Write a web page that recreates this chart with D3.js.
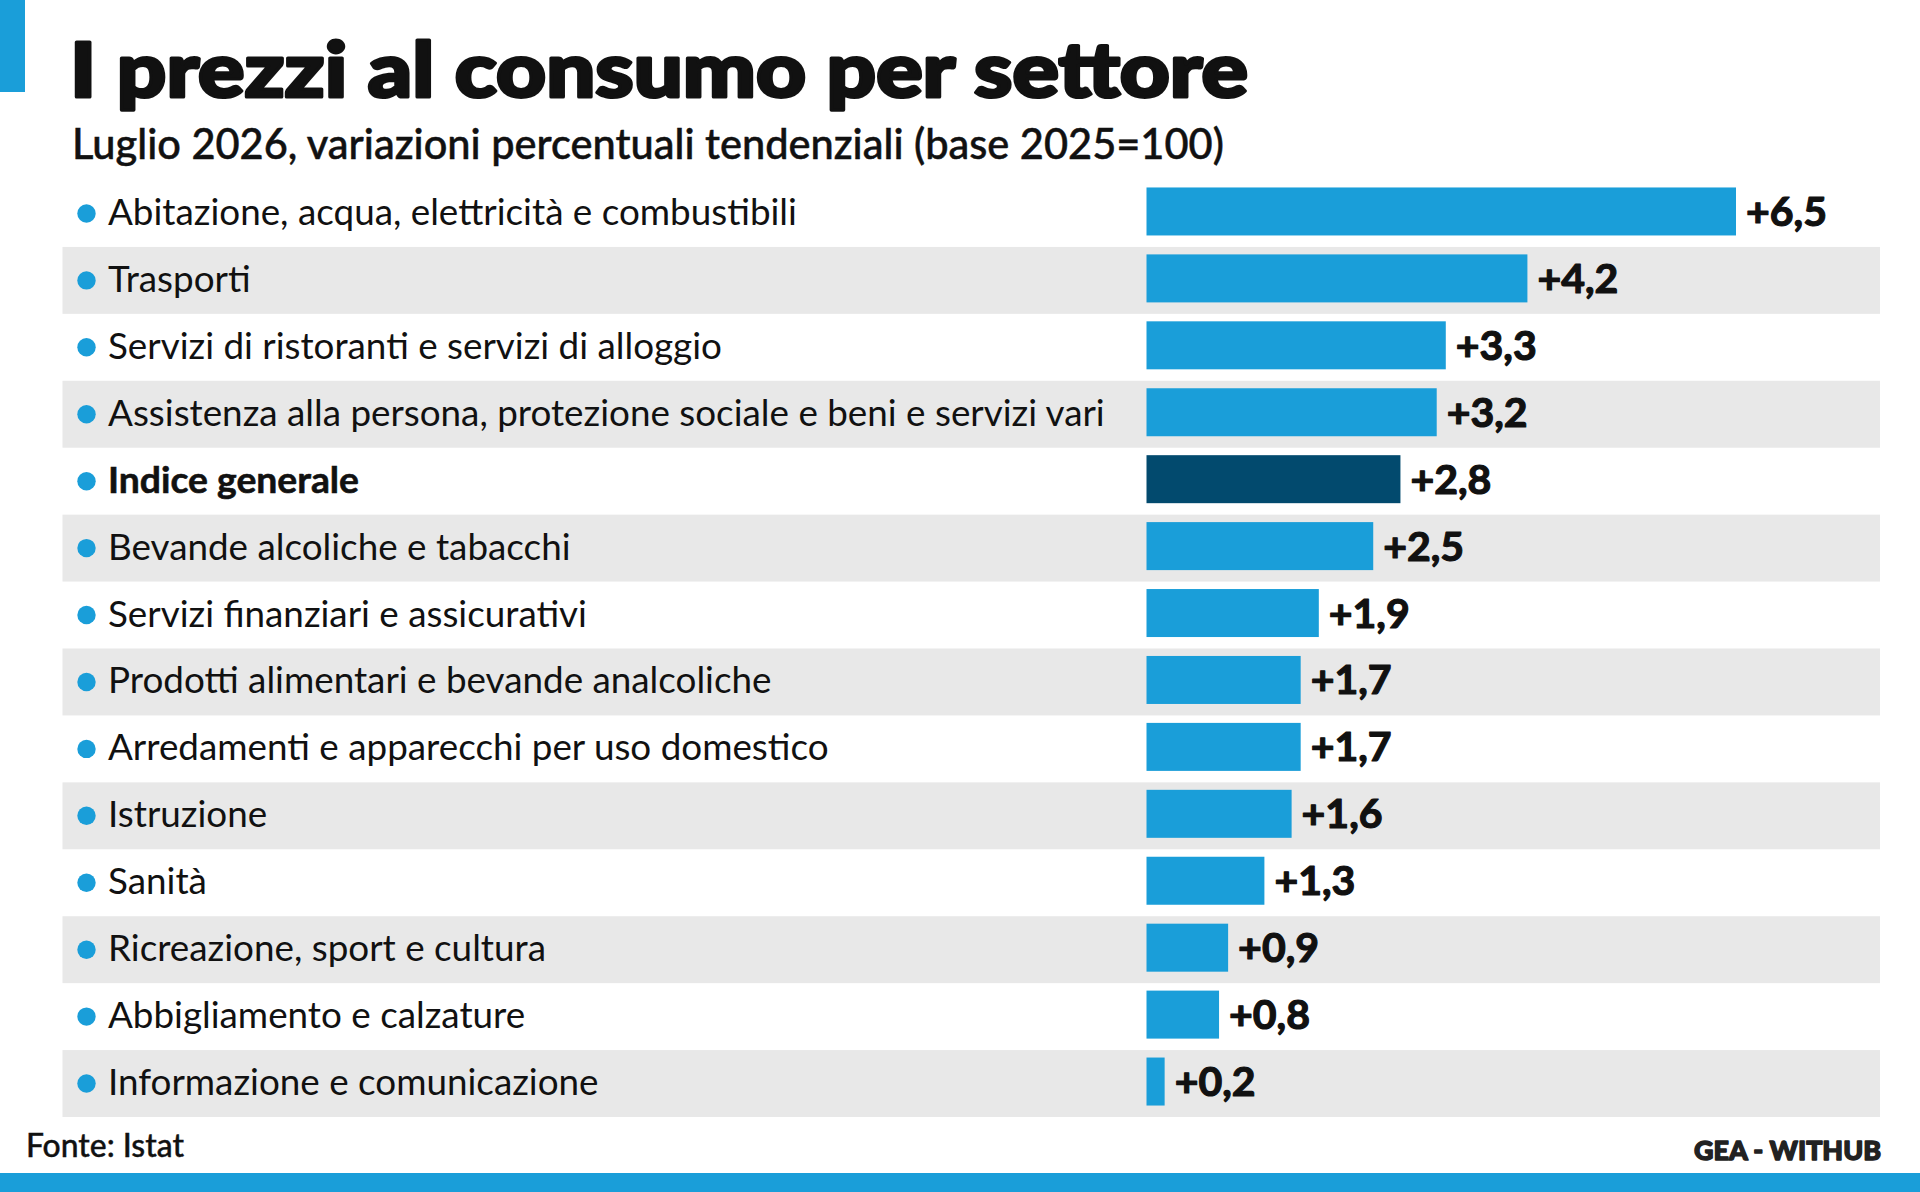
<!DOCTYPE html>
<html>
<head>
<meta charset="utf-8">
<script src="https://cdn.jsdelivr.net/npm/d3@7"></script>
<style>
  html, body { margin: 0; padding: 0; background: #fff; }
  svg { display: block; font-family: Lato, "Noto Sans", sans-serif; }
</style>
</head>
<body>
<script>
// ---- data ----
const categories = [
  "Abitazione, acqua, elettricità e combustibili",
  "Trasporti",
  "Servizi di ristoranti e servizi di alloggio",
  "Assistenza alla persona, protezione sociale e beni e servizi vari",
  "Indice generale",
  "Bevande alcoliche e tabacchi",
  "Servizi finanziari e assicurativi",
  "Prodotti alimentari e bevande analcoliche",
  "Arredamenti e apparecchi per uso domestico",
  "Istruzione",
  "Sanità",
  "Ricreazione, sport e cultura",
  "Abbigliamento e calzature",
  "Informazione e comunicazione"
];
const values = [6.5, 4.2, 3.3, 3.2, 2.8, 2.5, 1.9, 1.7, 1.7, 1.6, 1.3, 0.9, 0.8, 0.2];
const highlight = "Indice generale";

const title = "I prezzi al consumo per settore";
const subtitle = "Luglio 2026, variazioni percentuali tendenziali (base 2025=100)";
const source = "Fonte: Istat";
const credit = "GEA - WITHUB";

// ---- layout ----
const width = 1920, height = 1192;
const blue = "#1a9ed9", dark = "#024a6e", stripe = "#e8e8e8", ink = "#111";

const svg = d3.select("body").append("svg")
  .attr("width", width)
  .attr("height", height);

// scale a text's font-size so it spans the target width
function fitWidth(sel, target) {
  const node = sel.node();
  const fs = parseFloat(sel.attr("font-size"));
  const w = node.getComputedTextLength();
  sel.attr("font-size", (fs * target / w).toFixed(2));
}

const y = d3.scaleBand()
  .domain(categories)
  .range([180, 1117]);

const x = d3.scaleLinear()
  .domain([0, d3.max(values)])
  .range([1146.5, 1736]);

const barH = 48;
const rows = categories.map((c, i) => ({ name: c, value: values[i], i }));

// accent + bottom band
svg.append("rect").attr("x", 0).attr("y", 0).attr("width", 25).attr("height", 92).attr("fill", blue);
svg.append("rect").attr("x", 0).attr("y", 1173).attr("width", width).attr("height", height - 1173).attr("fill", blue);

// title (stroked to get a black weight, stretched to the original width)
svg.append("text")
  .attr("x", 70).attr("y", 97)
  .attr("font-size", 76).attr("font-weight", 900)
  .attr("fill", ink)
  .attr("stroke", ink).attr("stroke-width", 3.2).attr("stroke-linejoin", "round")
  .attr("textLength", 1178)
  .attr("lengthAdjust", "spacingAndGlyphs")
  .text(title);

const st = svg.append("text")
  .attr("x", 72).attr("y", 159)
  .attr("font-size", 36).attr("font-weight", 500)
  .attr("fill", ink)
  .attr("stroke", ink).attr("stroke-width", 0.5)
  .text(subtitle);
fitWidth(st, 1152);

// row stripes
svg.append("g").selectAll("rect")
  .data(rows.filter(d => d.i % 2 === 1))
  .join("rect")
  .attr("x", 62.5)
  .attr("y", d => y(d.name))
  .attr("width", 1880 - 62.5)
  .attr("height", y.step())
  .attr("fill", stripe);

// bullets
svg.append("g").selectAll("circle")
  .data(rows)
  .join("circle")
  .attr("cx", 86.5)
  .attr("cy", d => y(d.name) + y.step() / 2)
  .attr("r", 9.2)
  .attr("fill", blue);

// category labels
const labels = svg.append("g").selectAll("text")
  .data(rows)
  .join("text")
  .attr("x", 108)
  .attr("y", d => y(d.name) + y.step() / 2 + 11.5)
  .attr("font-size", 37)
  .attr("font-weight", d => d.name === highlight ? 700 : 400)
  .attr("fill", ink)
  .text(d => d.name);

// size regular labels from the longest one
const longest = labels.filter(d => d.i === 3);
fitWidth(longest, 997);
const catSize = longest.attr("font-size");
labels.filter(d => d.name !== highlight).attr("font-size", catSize);
labels.filter(d => d.name === highlight)
  .attr("font-size", catSize)
  .attr("stroke", ink).attr("stroke-width", 0.6)
  .attr("textLength", 251)
  .attr("lengthAdjust", "spacingAndGlyphs");

// bars
svg.append("g").selectAll("rect")
  .data(rows)
  .join("rect")
  .attr("x", x(0))
  .attr("y", d => y(d.name) + (y.step() - barH) / 2 - 2)
  .attr("width", d => x(d.value) - x(0))
  .attr("height", barH)
  .attr("fill", d => d.name === highlight ? dark : blue);

// value labels
const fmt = v => "+" + d3.format(".1f")(v).replace(".", ",");
svg.append("g").selectAll("text")
  .data(rows)
  .join("text")
  .attr("x", d => x(d.value) + 10)
  .attr("y", d => y(d.name) + y.step() / 2 + 12.5)
  .attr("font-size", 41)
  .attr("font-weight", 700)
  .attr("fill", ink)
  .attr("stroke", ink).attr("stroke-width", 1.2).attr("stroke-linejoin", "round")
  .text(d => fmt(d.value));

// footer
const src = svg.append("text")
  .attr("x", 26).attr("y", 1157)
  .attr("font-size", 28).attr("font-weight", 500)
  .attr("fill", ink)
  .attr("stroke", ink).attr("stroke-width", 0.4)
  .text(source);
fitWidth(src, 158);

const cr = svg.append("text")
  .attr("x", 1881).attr("y", 1160)
  .attr("text-anchor", "end")
  .attr("font-size", 26).attr("font-weight", 900)
  .attr("fill", "#222")
  .attr("stroke", "#222").attr("stroke-width", 1.4).attr("stroke-linejoin", "round")
  .text(credit);
fitWidth(cr, 187);
</script>
</body>
</html>
